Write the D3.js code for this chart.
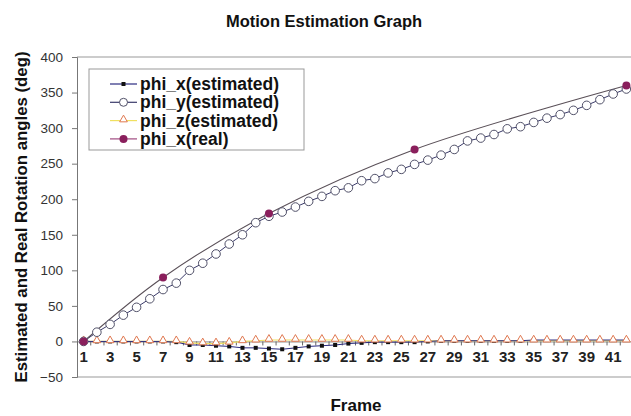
<!DOCTYPE html>
<html lang="en">
<head>
<meta charset="UTF-8">
<title>Motion Estimation Graph</title>
<script src="https://d3js.org/d3.v7.min.js"></script>
<style>
    body { margin: 0; background: #fff; font-family: Arial, "Liberation Sans", sans-serif; }
    svg { display: block; }
</style>
</head>
<body>
<svg id="chart" width="631" height="416"></svg>
<script>
// data
const frames = d3.range(1, 43);
const phiXEst = [0,0,0,0,0,0,0,-1,-5,-5,-6,-7,-9,-9,-10,-11,-9,-7,-6,-5,-3,-2,-1,-1,-1,-1,0,1,1,1,1,1,1,1,2,2,2,2,2,2,2,2];
const phiYEst = [0,13,24,37,48,60,73,82,100,110,123,137,150,167,176,182,189,197,204,212,216,226,229,237,242,249,255,262,270,282,286,291,299,302,308,314,319,325,332,340,348,355];
const phiZEst = [0,0,0,0,0,0,0,0,-2,-3,-3,-2,0,1,2,2,2,2,2,2,2,1,1,1,1,1,1,1,1,1,1,1,1,1,1,1,1,1,1,1,1,1];
const realFrames = [1, 7, 15, 26, 42];
const phiXReal = [0, 90, 180, 270, 360];
const yTicks = [-50, 0, 50, 100, 150, 200, 250, 300, 350, 400];
const xLabels = d3.range(1, 43, 2);

const svg = d3.select("#chart");
const plotLeft = 77, plotRight = 633, plotTop = 57, plotBottom = 377;

const x = d3.scaleBand().domain(frames).range([plotLeft, plotRight]);
const cx = f => x(f) + x.bandwidth() / 2;
const y = d3.scaleLinear().domain([-50, 400]).range([plotBottom, plotTop]);

// title + axis titles
svg.append("text").attr("x", 324).attr("y", 27).attr("text-anchor", "middle")
    .style("font-size", "16.5px").style("font-weight", "bold").attr("fill", "#111")
    .text("Motion Estimation Graph");
svg.append("text").attr("transform", `translate(27,217) rotate(-90)`).attr("text-anchor", "middle")
    .style("font-size", "16.8px").style("font-weight", "bold").attr("fill", "#111")
    .text("Estimated and Real Rotation angles (deg)");
svg.append("text").attr("x", 356).attr("y", 411).attr("text-anchor", "middle")
    .style("font-size", "17px").style("font-weight", "bold").attr("fill", "#111")
    .text("Frame");

// plot border (top / bottom)
svg.append("line").attr("x1", plotLeft).attr("x2", 640).attr("y1", plotTop).attr("y2", plotTop).attr("stroke", "#999");
svg.append("line").attr("x1", plotLeft).attr("x2", 640).attr("y1", plotBottom).attr("y2", plotBottom).attr("stroke", "#999");

// y axis
const yAxis = svg.append("g").attr("transform", `translate(${plotLeft},0)`)
    .call(d3.axisLeft(y).tickValues(yTicks).tickSize(5).tickPadding(9));
yAxis.select(".domain").attr("stroke", "#777");
yAxis.selectAll(".tick line").attr("stroke", "#777");
yAxis.selectAll("text").style("font-size", "13.5px").style("font-family", "Arial, 'Liberation Sans', sans-serif").attr("fill", "#333");

// x axis at zero: tick marks between categories, labels on odd frames
const xb = d3.scaleLinear().domain([0.5, 42.5]).range([plotLeft, plotRight]);
const xTickAxis = svg.append("g").attr("transform", `translate(0,${y(0)})`)
    .call(d3.axisBottom(xb).tickValues(d3.range(0.5, 43, 1)).tickSize(4).tickFormat(""));
xTickAxis.select(".domain").attr("stroke", "#888");
xTickAxis.selectAll(".tick line").attr("stroke", "#666");

const xLab = svg.append("g").attr("transform", `translate(0,${y(0)})`)
    .call(d3.axisBottom(x).tickValues(xLabels).tickSize(0).tickPadding(10));
xLab.select(".domain").remove();
xLab.selectAll("text").style("font-size", "15px").style("font-weight", "bold")
    .style("font-family", "Arial, 'Liberation Sans', sans-serif").attr("fill", "#222");

// series
const lineFn = d3.line().x((d, i) => cx(frames[i])).y(d => y(d));

svg.append("path").datum(phiZEst).attr("d", lineFn).attr("fill", "none").attr("stroke", "#f0e060").attr("stroke-width", 1.2);
svg.append("path").datum(phiXEst).attr("d", lineFn).attr("fill", "none").attr("stroke", "#2a2a80").attr("stroke-width", 1);
svg.append("path").datum(phiYEst).attr("d", lineFn).attr("fill", "none").attr("stroke", "#3a3a6a").attr("stroke-width", 1);

const realLine = d3.line().x((d, i) => cx(realFrames[i])).y(d => y(d)).curve(d3.curveCatmullRom.alpha(0.5));
svg.append("path").datum(phiXReal).attr("d", realLine).attr("fill", "none").attr("stroke", "#5a5058").attr("stroke-width", 1.1);

const triangle = d3.symbol().type(d3.symbolTriangle).size(26);

svg.append("g").selectAll("rect").data(phiXEst).join("rect")
    .attr("x", (d, i) => cx(frames[i]) - 2).attr("y", d => y(d) - 2)
    .attr("width", 4).attr("height", 4).attr("fill", "#111");

svg.append("g").selectAll("path").data(phiZEst).join("path")
    .attr("d", triangle).attr("transform", (d, i) => `translate(${cx(frames[i])},${y(d) - 1})`)
    .attr("fill", "#fff").attr("stroke", "#e07850").attr("stroke-width", 1);

svg.append("g").selectAll("circle").data(phiYEst).join("circle")
    .attr("cx", (d, i) => cx(frames[i])).attr("cy", d => y(d)).attr("r", 4.3)
    .attr("fill", "#fff").attr("stroke", "#505068").attr("stroke-width", 1);

svg.append("g").selectAll("circle").data(phiXReal).join("circle")
    .attr("cx", (d, i) => cx(realFrames[i])).attr("cy", d => y(d)).attr("r", 4)
    .attr("fill", "#8a1f5c");

// legend
const legend = svg.append("g");
legend.append("rect").attr("x", 89).attr("y", 69).attr("width", 215).attr("height", 81)
    .attr("fill", "#fff").attr("stroke", "#999");
const legendItems = [
    { label: "phi_x(estimated)", line: "#2a2a80", mark: "square" },
    { label: "phi_y(estimated)", line: "#3a3a6a", mark: "circle" },
    { label: "phi_z(estimated)", line: "#f0e060", mark: "triangle" },
    { label: "phi_x(real)", line: "#a04a80", mark: "dot" }
];
legendItems.forEach((d, i) => {
    const ly = 84 + i * 18.3;
    legend.append("line").attr("x1", 110).attr("x2", 137).attr("y1", ly).attr("y2", ly)
        .attr("stroke", d.line).attr("stroke-width", 1.2);
    if (d.mark === "square") {
        legend.append("rect").attr("x", 121.5).attr("y", ly - 2).attr("width", 4).attr("height", 4).attr("fill", "#111");
    } else if (d.mark === "circle") {
        legend.append("circle").attr("cx", 123.5).attr("cy", ly).attr("r", 4).attr("fill", "#fff").attr("stroke", "#505068");
    } else if (d.mark === "triangle") {
        legend.append("path").attr("d", triangle).attr("transform", `translate(123.5,${ly - 1})`)
            .attr("fill", "#fff").attr("stroke", "#e07850");
    } else {
        legend.append("circle").attr("cx", 123.5).attr("cy", ly).attr("r", 4).attr("fill", "#8a1f5c");
    }
    legend.append("text").attr("x", 140).attr("y", ly + 6)
        .style("font-size", "17.5px").style("font-weight", "bold").attr("fill", "#111")
        .text(d.label);
});
</script>
</body>
</html>
